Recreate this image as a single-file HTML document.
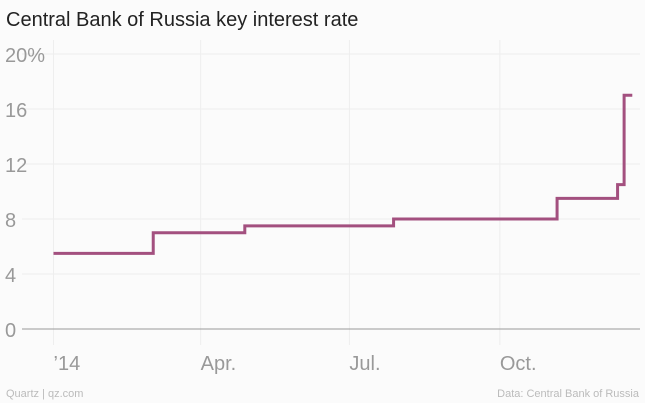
<!DOCTYPE html>
<html><head><meta charset="utf-8"><style>
html,body{margin:0;padding:0;background:#fbfbfb;width:645px;height:403px;overflow:hidden;font-family:"Liberation Sans",sans-serif}
</style></head><body>
<svg width="645" height="403">
<text x="6" y="26" font-size="20" fill="#222">Central Bank of Russia key interest rate</text>
<g id="grid"></g><g id="plot"></g>
<text x="6" y="397" font-size="11" fill="#bbb">Quartz | qz.com</text>
<text x="639" y="397" font-size="11" fill="#bbb" text-anchor="end">Data: Central Bank of Russia</text>
</svg>
<script>
const changeDays=[0,61,117,208,308,345,349,354];
const rates=[5.5,7.0,7.5,8.0,9.5,10.5,17.0,17.0];
const yTicks=[0,4,8,12,16,20];
const xTickDays=[0,90,181,273];
const xTickLabels=["’14","Apr.","Jul.","Oct."];
const X=d=>53.5+d*1.635, Y=v=>329-v*13.75;
const ns="http://www.w3.org/2000/svg";
const grid=document.getElementById('grid'),plot=document.getElementById('plot');
function mk(tag,at,parent){const e=document.createElementNS(ns,tag);for(const k in at)e.setAttribute(k,at[k]);parent.appendChild(e);return e;}
yTicks.forEach(v=>{
 if(v>0){const l=mk('line',{x1:22,x2:640,y1:Y(v),y2:Y(v),stroke:'#eee','stroke-width':1},grid);
 
 }
 const t=mk('text',{x:5,y:Y(v)+8,'font-size':20,fill:'#999'},grid);
 t.textContent=v===20?'20%':String(v);
 
 
});
xTickDays.forEach((d,i)=>{
 const l=mk('line',{x1:X(d),x2:X(d),y1:40,y2:345,stroke:'#eee','stroke-width':1},grid);
 
 
 const t=mk('text',{x:X(d),y:370,'font-size':20,fill:'#999'},grid);
 t.textContent=xTickLabels[i];
 
 
});
const base=mk('line',{x1:22,x2:640,y1:Y(0),y2:Y(0),stroke:'#999','stroke-width':1},grid);


let d='M'+X(changeDays[0])+','+Y(rates[0]);
for(let i=1;i<changeDays.length;i++){d+=' H'+X(changeDays[i])+' V'+Y(rates[i]);}
const p=mk('path',{d:d,fill:'none',stroke:'#a3507f','stroke-width':3},plot);


</script>
</body></html>
